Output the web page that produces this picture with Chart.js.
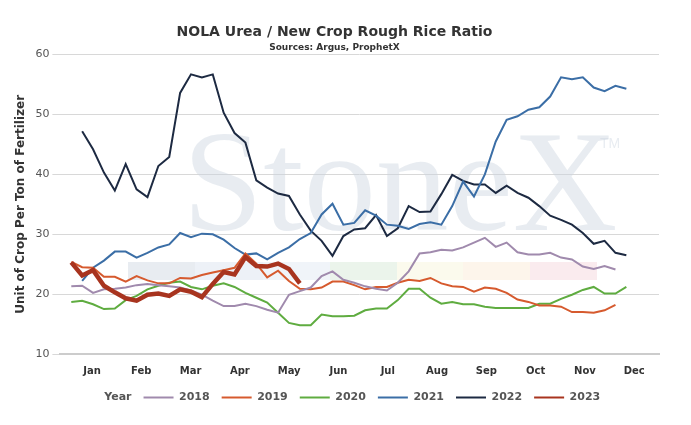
<!DOCTYPE html>
<html>
<head>
<meta charset="utf-8">
<script src="https://cdn.jsdelivr.net/npm/chart.js@4"></script>
<style>
  body { margin: 0; background: #fff; }
  #wrap { width: 691px; height: 425px; }
</style>
</head>
<body>
<div id="wrap"><canvas id="grafica"></canvas></div>
<script>
// month labels sit at fractional week positions
const meses = ["Jan","Feb","Mar","Apr","May","Jun","Jul","Aug","Sep","Oct","Nov","Dec"];
const posMeses = meses.map((m, i) => 2.9 + i * 4.53);

// weekly ratio values, each series starts at the given week
const anios = ["2018","2019","2020","2021","2022","2023"];
const inicioSemana = [1, 1, 1, 2, 2, 1];

const datos2018 = [21.3,21.4,20.2,20.8,20.9,21.1,21.5,21.7,21.5,21.3,21.1,20.6,19.9,18.9,18,18,18.4,18,17.4,16.9,19.9,20.5,21.1,23,23.8,22.4,21.9,
  21.3,20.9,20.6,21.9,23.8,26.8,27,27.4,27.3,27.8,28.6,29.4,27.9,28.6,27,26.6,26.6,26.9,26.1,25.8,24.6,24.2,24.7,24.1];
const datos2019 = [25.4,24.5,24.4,22.9,22.9,22.1,23,22.3,21.8,21.8,22.7,22.6,23.2,23.6,24,24.4,26.8,25.1,22.8,23.9,22.2,20.9,20.8,21.1,22.1,22.1,21.5,
  20.8,21.2,21.2,21.9,22.4,22.2,22.7,21.8,21.3,21.2,20.4,21.1,20.9,20.2,19.1,18.7,18.1,18.1,17.9,17,17,16.9,17.3,18.2];
const datos2020 = [18.7,18.9,18.3,17.5,17.6,19,19.7,20.8,21.4,21.9,22.1,21.2,20.8,21.4,21.8,21.2,20.2,19.4,18.6,16.9,15.2,14.8,14.8,16.6,16.3,16.3,16.4,
  17.3,17.6,17.6,19,20.9,20.9,19.4,18.4,18.7,18.3,18.3,17.9,17.7,17.7,17.7,17.7,18.4,18.4,19.2,19.9,20.7,21.2,20.1,20.1,21.2];
const datos2021 = [22.2,24.4,25.6,27.1,27.1,26.1,26.9,27.8,28.3,30.2,29.5,30.1,30,29.1,27.7,26.6,26.8,25.8,26.9,27.8,29.2,30.2,33.3,35.1,31.6,31.9,
  34,33.1,31.6,31.4,30.9,31.7,32,31.6,34.7,38.8,36.3,40,45.5,49.1,49.7,50.8,51.2,53,56.2,55.9,56.2,54.5,53.9,54.8,54.3];
const datos2022 = [47.2,44.2,40.3,37.3,41.7,37.5,36.2,41.4,42.9,53.6,56.7,56.2,56.7,50.3,46.9,45.3,39,37.8,36.8,36.4,33.3,30.6,28.9,26.4,29.7,30.8,
  31,33.2,29.7,31,34.7,33.7,33.8,36.7,39.9,38.9,38.3,38.3,36.9,38.1,36.9,36.1,34.7,33.1,32.4,31.6,30.2,28.4,28.9,26.9,26.5];
const datos2023 = [25.3,23.1,24,21.4,20.3,19.3,18.9,19.9,20.1,19.7,20.8,20.4,19.5,21.7,23.7,23.3,26.2,24.7,24.6,25.1,24.2,21.8];

const series = [datos2018, datos2019, datos2020, datos2021, datos2022, datos2023];
const colores = ["#a08aad", "#d65a2e", "#5fac40", "#3b6ea6", "#1d2a42", "#a8341f"];
const grosores = [2, 2, 2, 2, 2, 4.5];

const datasets = series.map((valores, k) => ({
  label: anios[k],
  data: valores.map((v, i) => ({x: inicioSemana[k] + i, y: v})),
  borderColor: colores[k],
  backgroundColor: colores[k],
  borderWidth: grosores[k],
  pointRadius: 0,
  tension: 0,
  order: k === 5 ? 0 : 1
}));

// StoneX watermark and colour bands behind the lines
const marcaAgua = {
  id: "marcaAgua",
  beforeDatasetsDraw(chart) {
    const {ctx} = chart;
    ctx.save();
    ctx.font = "145px 'Liberation Serif', serif";
    ctx.fillStyle = "rgba(205,212,225,0.45)";
    ctx.textAlign = "center";
    ctx.textBaseline = "alphabetic";
    ctx.fillText("StoneX", 400, 230);
    ctx.font = "14px 'Liberation Sans', sans-serif";
    ctx.fillText("TM", 610, 148);
    const bandas = [
      [128, 195, "rgba(210,218,228,0.5)"],
      [195, 263, "rgba(220,228,240,0.5)"],
      [263, 330, "rgba(226,234,244,0.5)"],
      [330, 397, "rgba(222,236,222,0.6)"],
      [397, 463, "rgba(248,246,225,0.6)"],
      [463, 530, "rgba(252,238,222,0.6)"],
      [530, 597, "rgba(246,222,226,0.6)"]
    ];
    bandas.forEach(([a, b, c]) => {
      ctx.fillStyle = c;
      ctx.fillRect(a, 262, b - a, 18);
    });
    ctx.restore();
  }
};

new Chart(document.getElementById("grafica"), {
  type: "line",
  data: {datasets},
  plugins: [marcaAgua],
  options: {
    responsive: true,
    maintainAspectRatio: false,
    animation: false,
    layout: {padding: {left: 10, right: 32, top: 12, bottom: 12}},
    plugins: {
      title: {
        display: true,
        text: "NOLA Urea / New Crop Rough Rice Ratio",
        color: "#333",
        font: {family: "'DejaVu Sans', sans-serif", size: 14, weight: "bold"},
        padding: {top: 12, bottom: 1}
      },
      subtitle: {
        display: true,
        text: "Sources: Argus, ProphetX",
        color: "#333",
        font: {family: "'DejaVu Sans', sans-serif", size: 9, weight: "bold"},
        padding: {top: 0, bottom: 2}
      },
      legend: {
        position: "bottom",
        labels: {
          color: "#555",
          font: {family: "'DejaVu Sans', sans-serif", size: 11, weight: "bold"},
          boxWidth: 30,
          boxHeight: 2,
          padding: 12,
          generateLabels(chart) {
            const items = Chart.defaults.plugins.legend.labels.generateLabels(chart);
            items.sort((a, b) => a.datasetIndex - b.datasetIndex);
            items.forEach(it => { it.lineWidth = 0; it.strokeStyle = "transparent"; });
            return [{text: "Year", fillStyle: "transparent", strokeStyle: "transparent", lineWidth: 0, datasetIndex: -1, fontColor: "#555"}].concat(items);
          }
        }
      },
      tooltip: {enabled: false}
    },
    scales: {
      x: {
        type: "linear",
        min: 0,
        max: 55,
        afterBuildTicks(axis) { axis.ticks = posMeses.map(v => ({value: v})); },
        ticks: {
          autoSkip: false,
          maxRotation: 0,
          color: "#333",
          font: {family: "'DejaVu Sans', sans-serif", size: 10, weight: "bold"},
          callback: (v, i) => meses[i]
        },
        grid: {display: false},
        border: {color: "#ccc", width: 2}
      },
      y: {
        min: 10,
        max: 60,
        ticks: {stepSize: 10, color: "#555", font: {family: "'DejaVu Sans', sans-serif", size: 11}},
        grid: {color: "#d8d8d8", lineWidth: 1},
        border: {display: false},
        title: {
          display: true,
          text: "Unit of Crop Per Ton of Fertilizer",
          color: "#333",
          font: {family: "'DejaVu Sans', sans-serif", size: 12, weight: "bold"}
        }
      }
    }
  }
});
</script>
</body>
</html>
